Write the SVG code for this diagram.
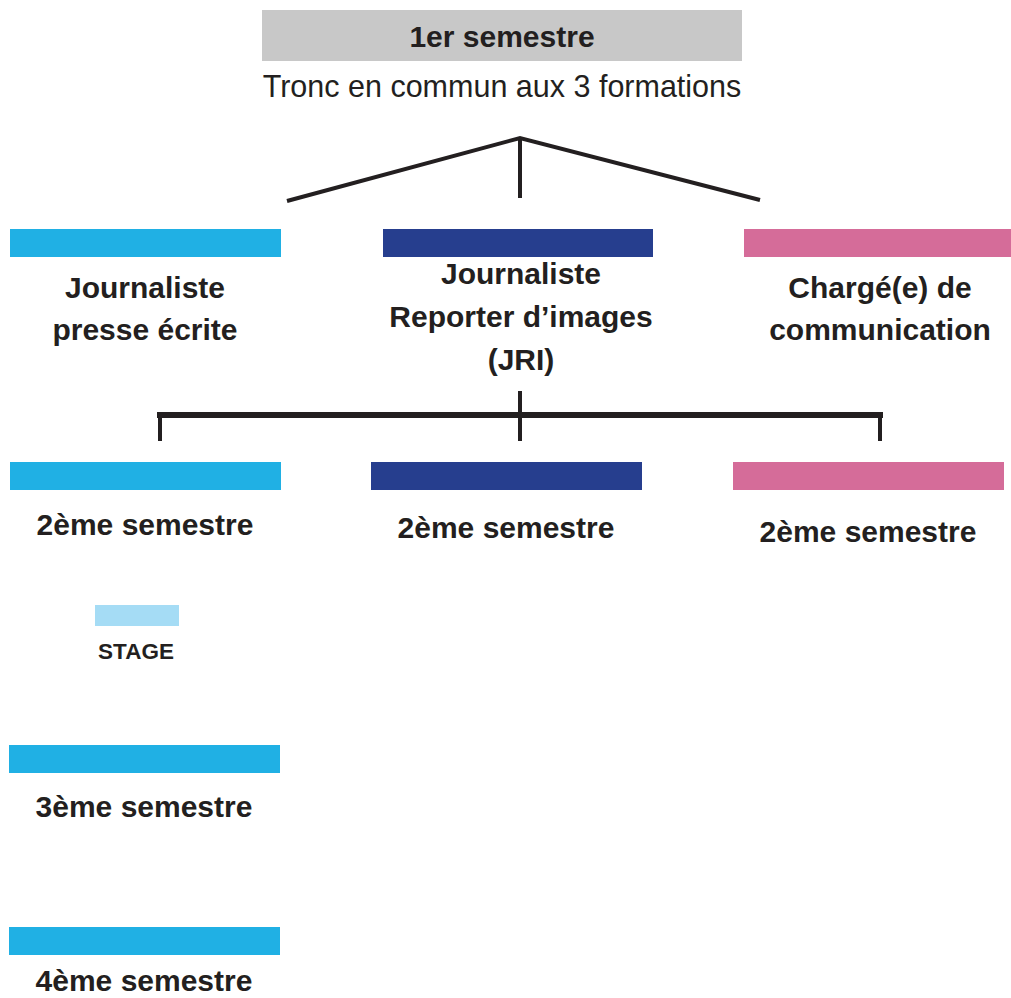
<svg xmlns="http://www.w3.org/2000/svg" width="1011" height="998" viewBox="0 0 1011 998">
<style>
text{font-family:"Liberation Sans",Arial,sans-serif;fill:#231f20;text-anchor:middle}
.b{font-weight:bold;font-size:30px}
.r{font-size:30.5px}
.s{font-weight:bold;font-size:22.5px}
.cy{fill:#20b0e4}.db{fill:#263e8e}.pk{fill:#d56c99}.lb{fill:#a5dcf5}.gr{fill:#c8c8c8}
.ln{stroke:#231f20;fill:none}
</style>
<rect width="1011" height="998" fill="#fff"/>
<g id="s1">
<rect class="gr" x="262" y="10" width="480" height="51"/>
<text class="b" x="502" y="47">1er semestre</text>
<text class="r" x="502" y="97">Tronc en commun aux 3 formations</text>
</g>
<g id="connectors">
<path class="ln" stroke-width="4" d="M287,201 L520,138 L760,200 M520,138 V198"/>
<path class="ln" stroke-width="6" d="M157,415 H883"/>
<path class="ln" stroke-width="4" d="M160,412 V441 M520,391 V441 M880,412 V441"/>
</g>
<g id="pe">
<rect class="cy" x="10" y="229" width="271" height="28"/>
<text class="b" x="145" y="298">Journaliste</text>
<text class="b" x="145" y="340">presse écrite</text>
</g>
<g id="jri">
<rect class="db" x="383" y="229" width="270" height="28"/>
<text class="b" x="521" y="284">Journaliste</text>
<text class="b" x="521" y="327">Reporter d’images</text>
<text class="b" x="521" y="370">(JRI)</text>
</g>
<g id="com">
<rect class="pk" x="744" y="229" width="267" height="28"/>
<text class="b" x="880" y="298">Chargé(e) de</text>
<text class="b" x="880" y="340">communication</text>
</g>
<g id="pe2">
<rect class="cy" x="10" y="462" width="271" height="28"/>
<text class="b" x="145" y="535">2ème semestre</text>
</g>
<g id="jri2">
<rect class="db" x="371" y="462" width="271" height="28"/>
<text class="b" x="506" y="538">2ème semestre</text>
</g>
<g id="com2">
<rect class="pk" x="733" y="462" width="271" height="28"/>
<text class="b" x="868" y="542">2ème semestre</text>
</g>
<g id="stage">
<rect class="lb" x="95" y="605" width="84" height="21"/>
<text class="s" x="136" y="659">STAGE</text>
</g>
<g id="pe3">
<rect class="cy" x="9" y="745" width="271" height="28"/>
<text class="b" x="144" y="817">3ème semestre</text>
</g>
<g id="pe4">
<rect class="cy" x="9" y="927" width="271" height="28"/>
<text class="b" x="144" y="991">4ème semestre</text>
</g>
</svg>
